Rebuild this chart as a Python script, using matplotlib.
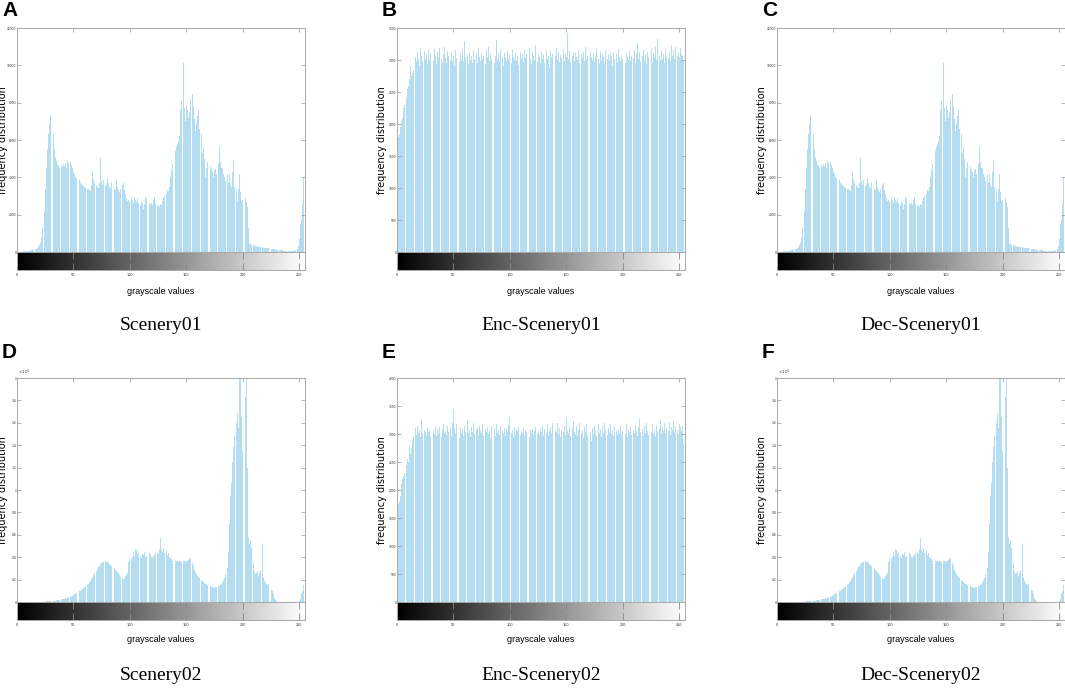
import numpy as np
import matplotlib
matplotlib.use("Agg")
import matplotlib.pyplot as plt

# Histogram counts per grey level (0..255).
scenery01 = [
    0, 0, 0, 5, 10, 20, 30, 40, 50, 60, 70, 80, 90, 100, 110, 120,
    140, 170, 200, 260, 350, 500, 800, 1300, 2200, 3400, 4500, 5500, 6300, 6900, 7350, 6800,
    6300, 5500, 5100, 4900, 4700, 4600, 4500, 4650, 4550, 4700, 4600, 4750, 4500, 4900, 4750, 4800,
    4650, 4500, 4300, 4200, 4000, 3950, 3800, 3850, 3700, 3650, 3600, 3550, 3500, 3450, 3400, 3350,
    3300, 3250, 3600, 4350, 3900, 3700, 3600, 3500, 3450, 3700, 5050, 3800, 3600, 3850, 3550, 3650,
    3900, 3700, 3500, 3450, 3750, 3650, 3400, 3300, 3900, 3500, 3300, 3200, 3350, 3600, 3700, 3300,
    3100, 2900, 2750, 2800, 2700, 2900, 2800, 2650, 2950, 2800, 2700, 2900, 2600, 2500, 2750, 2650,
    2300, 2550, 2950, 2850, 2700, 2600, 2550, 2650, 2500, 2800, 2950, 2600, 2450, 2500, 2400, 2550,
    2500, 2750, 2900, 3000, 3100, 3300, 3250, 3500, 4000, 4400, 4700, 5200, 5400, 5600, 5800, 5950,
    6200, 7600, 8100, 10150, 7700, 7000, 7900, 7600, 7200, 7500, 8200, 8450, 7800, 7100, 6500, 6900,
    7300, 7650, 6600, 6300, 5300, 5600, 5000, 4000, 4500, 4800, 5150, 4600, 4450, 4300, 4000, 4400,
    4450, 4200, 4700, 5700, 4800, 4500, 4500, 4200, 4000, 3800, 4100, 3700, 4200, 3600, 3500, 4300,
    4950, 3500, 3300, 2750, 3400, 4200, 3200, 2750, 2800, 2900, 2900, 2700, 2400, 1300, 500, 420,
    380, 350, 330, 310, 300, 290, 280, 270, 260, 250, 240, 230, 220, 210, 200, 190,
    180, 170, 160, 150, 140, 130, 120, 110, 100, 95, 90, 85, 80, 75, 70, 65,
    60, 60, 60, 60, 60, 70, 80, 100, 150, 300, 700, 1500, 1700, 2600, 4000, 13000,
]

enc_scenery01 = [
    3800, 1800, 1850, 1950, 2050, 2100, 2250, 2300, 2400, 2550, 2600, 2700, 2900, 2750, 2800, 2850,
    3050, 2980, 3120, 3010, 2900, 3180, 3060, 2970, 3140, 3020, 3090, 2940, 3150, 3000, 3110, 3040,
    2990, 3170, 3080, 2930, 3130, 3050, 3190, 3010, 2960, 3100, 3200, 3030, 2950, 3140, 3070, 3000,
    3120, 2980, 3060, 2910, 3150, 3030, 3090, 2970, 3110, 3010, 3170, 2990, 3290, 3040, 3080, 2940,
    3130, 3000, 3060, 2960, 3140, 3020, 3100, 2950, 3180, 3050, 2990, 3120, 3010, 3070, 2930, 3160,
    3040, 3210, 2980, 3090, 3020, 3130, 2960, 3060, 3320, 3000, 3100, 2970, 3150, 3030, 2900, 3110,
    3050, 2990, 3140, 3010, 3080, 2950, 3170, 3040, 3000, 3120, 2980, 3060, 2920, 3130, 3020, 3090,
    2970, 3150, 3030, 3100, 2990, 3180, 3010, 2940, 3120, 3060, 3000, 3230, 2970, 3080, 3040, 2950,
    3130, 3010, 3090, 2960, 3160, 3020, 3070, 2880, 3140, 3040, 3100, 2980, 3060, 3190, 3000, 3120,
    2970, 3080, 3030, 3150, 2990, 3100, 3050, 3420, 3010, 3140, 2960, 3070, 3130, 2990, 3110, 3040,
    3000, 3160, 2950, 3090, 3030, 3120, 2980, 3200, 3010, 3070, 2940, 3130, 3050, 3000, 3110, 2970,
    3060, 3180, 3020, 2950, 3140, 3000, 3090, 3040, 2930, 3150, 3010, 3080, 2980, 3120, 3060, 2900,
    3130, 3020, 3100, 2970, 3170, 3040, 2990, 3080, 3010, 3200, 2960, 3110, 3050, 3000, 3140, 2980,
    3070, 3030, 3160, 2950, 3100, 3260, 3010, 3120, 2990, 3060, 3150, 3000, 3090, 2940, 3130, 3050,
    3020, 3180, 2970, 3110, 3040, 3210, 3000, 3330, 3060, 2980, 3140, 3020, 3090, 2960, 3170, 3050,
    3010, 3120, 2990, 3230, 3060, 3150, 3020, 3200, 3080, 3130, 3040, 3190, 3100, 3070, 2980, 3800,
]

scenery02 = [
    0, 0, 0, 0, 0, 0, 0, 0, 0, 0, 0, 0, 0, 0, 0, 0,
    0, 0, 0, 0, 10, 15, 20, 25, 30, 40, 50, 60, 70, 80, 90, 100,
    110, 120, 130, 150, 170, 190, 210, 230, 250, 270, 300, 330, 360, 400, 430, 470,
    510, 560, 610, 670, 730, 800, 870, 940, 1000, 1080, 1160, 1240, 1320, 1420, 1530, 1650,
    1780, 1900, 2050, 2200, 2400, 2600, 2800, 2950, 3100, 3250, 3350, 3450, 3550, 3600, 3620, 3600,
    3550, 3500, 3400, 3300, 3200, 3100, 3000, 2900, 2800, 2700, 2550, 2400, 2250, 2100, 2050, 2150,
    2300, 2450, 2600, 3600, 3900, 3800, 4000, 4500, 4100, 4700, 4600, 4300, 4400, 4100, 3900, 4300,
    4200, 4500, 4000, 4100, 3900, 4400, 4200, 4000, 3900, 4100, 4200, 4400, 4500, 4300, 4700, 5700,
    4600, 4500, 4800, 4400, 4600, 4200, 4400, 4000, 3900, 3800, 3700, 3750, 3700, 3650, 3700, 3600,
    3700, 3650, 3600, 3650, 3700, 3600, 3650, 3700, 3750, 3800, 3950, 3500, 3200, 2900, 2700, 2500,
    2350, 2200, 2100, 2000, 1900, 1800, 1700, 1650, 1600, 1550, 1450, 1400, 1350, 1300, 1280, 1270,
    1300, 1350, 1400, 1450, 1550, 1650, 1800, 1950, 2150, 2500, 3000, 4500, 7000, 9500, 10600, 12500,
    13800, 14800, 16000, 16800, 15500, 21000, 22000, 16500, 13500, 16000, 18300, 22000, 12000, 5800, 5200, 5500,
    4800, 3500, 2800, 2500, 2600, 2800, 2300, 2600, 2900, 5200, 2200, 1900, 1700, 1650, 1500, 1600,
    1300, 1100, 1000, 700, 400, 200, 80, 30, 0, 0, 0, 0, 0, 0, 0, 0,
    0, 0, 0, 0, 0, 0, 0, 0, 0, 0, 50, 300, 700, 1000, 1500, 25000,
]

enc_scenery02 = [
    4500, 1750, 1800, 1900, 2100, 2200, 2250, 2300, 2450, 2550, 2500, 2800, 2650, 2750, 2900, 2950,
    3100, 2980, 3140, 3020, 3060, 2950, 3270, 3010, 3080, 3040, 2990, 3110, 3030, 3070, 2960, 3120,
    3050, 3000, 3150, 2970, 3090, 3020, 3130, 2940, 3080, 3170, 3010, 3060, 2990, 3140, 3030, 3110,
    2970, 3200, 3450, 3100, 3000, 3180, 3050, 2930, 3120, 3020, 3090, 2960, 3150, 3040, 3250, 3010,
    3080, 2950, 3130, 3030, 3190, 3000, 3070, 3110, 2980, 3140, 3050, 3020, 3170, 2960, 3090, 3030,
    3120, 3000, 3060, 2920, 3150, 3040, 3100, 2970, 3180, 3020, 3080, 2990, 3130, 3050, 3010, 3110,
    2960, 3090, 3030, 3160, 3310, 3020, 3070, 2940, 3120, 3000, 3090, 3050, 3130, 2980, 3060, 3020,
    3100, 2970, 3080, 3030, 3110, 2950, 3070, 3010, 3090, 2990, 3050, 3120, 3000, 3060, 2980, 3100,
    3030, 3140, 2960, 3090, 3020, 3180, 2990, 3060, 3130, 3010, 3190, 2970, 3080, 3040, 3200, 3000,
    3110, 2950, 3070, 3030, 3150, 2980, 3290, 3060, 3020, 3120, 2970, 3100, 3230, 3040, 3000, 3140,
    2960, 3080, 3190, 3010, 3060, 2930, 3120, 3040, 3170, 2990, 3090, 3030, 2870, 3110, 3000, 3150,
    3050, 2970, 3180, 3020, 3080, 2950, 3140, 3010, 3190, 3060, 2980, 3100, 3040, 3170, 3000, 3080,
    2960, 3120, 3050, 2990, 3090, 3020, 3150, 2980, 3060, 3110, 3000, 3180, 2940, 3070, 3030, 3130,
    2990, 3080, 3020, 3160, 3050, 2970, 3110, 3260, 3030, 3090, 2960, 3140, 3010, 3200, 3060, 2980,
    3120, 3040, 3170, 3000, 3080, 2950, 3150, 3030, 3090, 3250, 3010, 3120, 3060, 3190, 3020, 3100,
    3050, 3220, 2980, 3130, 3070, 3240, 3010, 3150, 3080, 3000, 3180, 3120, 3060, 3150, 2840, 4500,
]

# Decrypted images give back the plain histograms.
dec_scenery01 = scenery01
dec_scenery02 = scenery02

letters = ["A", "B", "C", "D", "E", "F"]
captions = ["Scenery01", "Enc-Scenery01", "Dec-Scenery01",
            "Scenery02", "Enc-Scenery02", "Dec-Scenery02"]
counts = [scenery01, enc_scenery01, dec_scenery01,
          scenery02, enc_scenery02, dec_scenery02]
ymax = [12000, 3500, 12000, 20000, 4000, 20000]
ystep = [2000, 500, 2000, 2000, 500, 2000]
xticks = [0, 50, 100, 150, 200, 250]

W, H = 1065, 688
BAR = "#b5ddf1"
EDGE = "#a8a8a8"
TICKFONT = dict(family="Liberation Sans", size=2.4)


# Converts a pixel box (left, top, width, height) to figure fractions.
def box(left, top, w, h):
    return [left / W, 1 - (top + h) / H, w / W, h / H]


def panel(fig, i):
    col, row = i % 3, i // 3
    left = [17, 397, 777][col]
    top = [28, 378][row]
    w, h, cb = 288, 224, 18
    vals = np.array(counts[i])
    bins = np.arange(len(vals))

    # histogram
    ax = fig.add_axes(box(left, top, w, h))
    ax.bar(bins, vals, width=0.85, color=BAR, linewidth=0)
    ax.set_xlim(0, 255)
    ax.set_ylim(0, ymax[i])
    ax.set_xticks(xticks)
    ax.set_xticklabels([])
    yt = np.arange(0, ymax[i] + 1, ystep[i])
    ax.set_yticks(yt)
    if ymax[i] == 20000:
        ax.set_yticklabels(["0" if v == 0 else ("%g" % (v / 1e4)) for v in yt])
        ax.text(0.004, 1.004, r"$\times10^4$", transform=ax.transAxes,
                fontsize=3.0, color="#333333", ha="left", va="bottom")
    else:
        ax.set_yticklabels([str(v) for v in yt])
    ax.tick_params(axis="both", direction="in", length=3, width=0.5, color="#999999",
                   top=True, bottom=False, right=True, labelcolor="#333333", pad=0.4)
    for s in ax.spines.values():
        s.set_color(EDGE)
        s.set_linewidth(0.7)
    ax.spines["bottom"].set_visible(False)
    for t in ax.get_yticklabels():
        t.set_fontfamily(TICKFONT["family"])
        t.set_fontsize(TICKFONT["size"])

    # grey-level bar under the histogram
    cax = fig.add_axes(box(left, top + h, w, cb))
    grad = np.linspace(0, 1, 256).reshape(1, -1)
    cax.imshow(grad, cmap="gray", aspect="auto", extent=(0, 255, 0, 1))
    cax.set_xlim(0, 255)
    cax.set_yticks([])
    cax.set_xticks(xticks)
    cax.tick_params(axis="x", direction="in", length=5, width=0.6, color="#888888",
                    top=True, bottom=True, labelcolor="#333333", pad=2.5)
    for t in cax.get_xticklabels():
        t.set_fontfamily(TICKFONT["family"])
        t.set_fontsize(2.8)
    for s in cax.spines.values():
        s.set_color(EDGE)
        s.set_linewidth(0.7)

    # labels
    cx = left + w / 2
    fig.text(cx / W, 1 - ([291, 640][row]) / H, "grayscale values",
             ha="center", va="center", fontsize=6.5, family="Liberation Sans")
    ylx = 3.5 if col == 0 else left - 15
    fig.text(ylx / W, 1 - (top + h / 2) / H, "frequency distribution",
             rotation=90, ha="center", va="center", fontsize=7, family="DejaVu Sans")
    fig.text(cx / W, 1 - ([325, 675][row]) / H, captions[i],
             ha="center", va="center", fontsize=14, family="Liberation Serif")
    fig.text((left - 15) / W, 1 - ([11, 353][row]) / H, letters[i],
             ha="left", va="center", fontsize=15, fontweight="bold",
             family="Liberation Sans")


fig = plt.figure(figsize=(W / 100, H / 100), dpi=100)
for k in range(6):
    panel(fig, k)
fig.savefig("out.png", dpi=100)
